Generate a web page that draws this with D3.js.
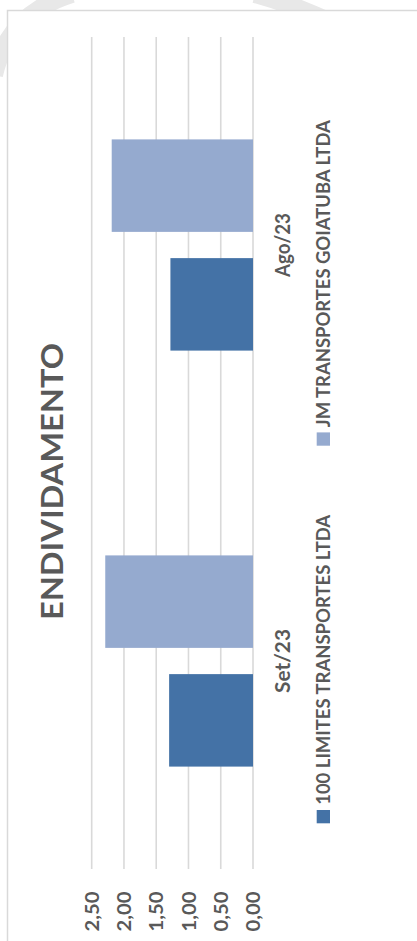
<!DOCTYPE html>
<html><head><meta charset="utf-8">
<script src="https://cdn.jsdelivr.net/npm/d3@7"></script>
<style>html,body{margin:0;padding:0;background:#fff;}svg{display:block;}</style>
</head><body>
<script>
const categories = ["Set/23", "Ago/23"];
const seriesNames = ["100 LIMITES TRANSPORTES LTDA", "JM TRANSPORTES GOIATUBA LTDA"];
const series100Limites = [1.30, 1.28];
const seriesJM = [2.29, 2.19];
const tickValues = [0, 0.5, 1, 1.5, 2, 2.5];
const tickLabels = ["0,00", "0,50", "1,00", "1,50", "2,00", "2,50"];
const title = "ENDIVIDAMENTO";

const W = 417, H = 941;
const colors = ["#4472a6", "#95aacf"];
const textColor = "#595959";
const font = "Lato, 'Open Sans', sans-serif";

const svg = d3.select("body").append("svg").attr("width", W).attr("height", H);

// background decoration
svg.append("path").attr("d", "M -6,75 Q 8,14 72,-6").attr("fill", "none").attr("stroke", "#e8e8e8").attr("stroke-width", 18);
svg.append("path").attr("d", "M 255,-6 Q 292,4 330,22").attr("fill", "none").attr("stroke", "#e8e8e8").attr("stroke-width", 18);
svg.append("rect").attr("x", 7.5).attr("y", 10.5).attr("width", W).attr("height", H).attr("fill", "#fff").attr("stroke", "#d9d9d9").attr("stroke-width", 1.5);

// rotated chart group: group x = H - screenY, group y = screenX
const g = svg.append("g").attr("transform", `translate(0,${H}) rotate(-90)`);

const y = d3.scaleLinear().domain([0, 2.5]).range([253, 91.7]);
const x0 = d3.scaleBand().domain(categories).range([72, 904]).padding(0);
const x1 = d3.scaleBand().domain(seriesNames).range([102.4, x0.step() - 102.4]).paddingInner(0.221).paddingOuter(0);

// gridlines
g.append("g").selectAll("line").data(tickValues).join("line")
  .attr("x1", 72).attr("x2", 904)
  .attr("y1", d => y(d)).attr("y2", d => y(d))
  .attr("stroke", "#d9d9d9").attr("stroke-width", 1.6);

// bars
const data = categories.map((c, i) => ({cat: c, vals: [series100Limites[i], seriesJM[i]]}));
const cg = g.append("g").selectAll("g").data(data).join("g")
  .attr("transform", d => `translate(${x0(d.cat)},0)`);
cg.selectAll("rect").data(d => d.vals.map((v, j) => ({name: seriesNames[j], v, j}))).join("rect")
  .attr("x", d => x1(d.name)).attr("width", x1.bandwidth())
  .attr("y", d => y(d.v)).attr("height", d => y(0) - y(d.v))
  .attr("fill", d => colors[d.j]);

// value axis labels
g.append("g").selectAll("text").data(tickValues).join("text")
  .attr("x", 49.5).attr("y", d => y(d)).attr("dy", "0.36em")
  .attr("text-anchor", "end")
  .attr("font-family", font).attr("font-weight", "bold").attr("font-size", 19.5)
  .attr("textLength", 40).attr("lengthAdjust", "spacingAndGlyphs")
  .attr("fill", textColor)
  .text((d, i) => tickLabels[i]);

// category labels
g.append("g").selectAll("text").data(categories).join("text")
  .attr("x", d => x0(d) + x0.bandwidth() / 2).attr("y", 289.5)
  .attr("text-anchor", "middle")
  .attr("font-family", font).attr("font-weight", "bold").attr("font-size", 21)
  .attr("textLength", 64).attr("lengthAdjust", "spacingAndGlyphs")
  .attr("fill", textColor)
  .text(d => d);

// title
g.append("text").attr("x", 459.5).attr("y", 63.3)
  .attr("text-anchor", "middle")
  .attr("font-family", font).attr("font-weight", "bold").attr("font-size", 31)
  .attr("textLength", 277).attr("lengthAdjust", "spacingAndGlyphs")
  .attr("fill", textColor)
  .text(title);

// legend
const legendX = [117.7, 495.3];
const legendLen = [290, 307];
const lg = g.append("g").selectAll("g").data(seriesNames).join("g")
  .attr("transform", (d, i) => `translate(${legendX[i]},316.7)`);
lg.append("rect").attr("width", 13.3).attr("height", 13.3).attr("fill", (d, i) => colors[i]);
lg.append("text").attr("x", 18.5).attr("y", 13.7)
  .attr("font-family", font).attr("font-weight", "bold").attr("font-size", 18.5)
  .attr("textLength", (d, i) => legendLen[i]).attr("lengthAdjust", "spacingAndGlyphs")
  .attr("fill", textColor)
  .text(d => d);
</script>
</body></html>
